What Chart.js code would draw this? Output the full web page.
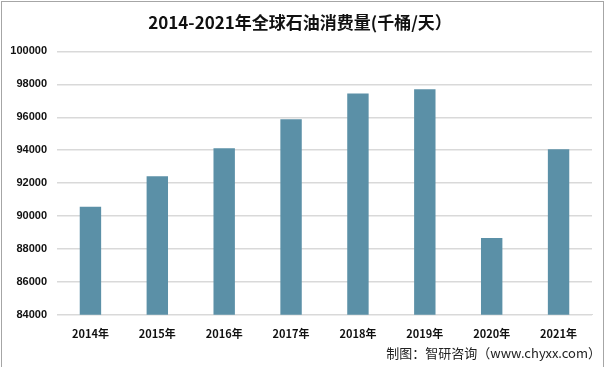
<!DOCTYPE html>
<html>
<head>
<meta charset="utf-8">
<script src="https://cdn.jsdelivr.net/npm/chart.js@4/dist/chart.umd.min.js"></script>
<style>
  body { margin: 0; background: #fff; }
  #wrap { position: relative; width: 609px; height: 367px; }
  #frame { position: absolute; left: 1px; top: 1px; width: 603px; height: 380px;
    border: 1px solid #a6a6a6; border-bottom: none; box-sizing: border-box; }
  canvas { position: absolute; left: 0; top: 0; }
  #source { position: absolute; right: 8px; top: 343px; font: 13px "Noto Sans CJK SC", sans-serif; color: #222; }
</style>
</head>
<body>
<div id="wrap">
  <div id="frame"></div>
  <canvas id="chart" width="609" height="367"></canvas>
  <div id="source">制图：智研咨询（www.chyxx.com）</div>
</div>
<script>
// 年份
const years = ['2014年', '2015年', '2016年', '2017年', '2018年', '2019年', '2020年', '2021年'];
// 全球石油消费量（千桶/天）
const consumption = [90560, 92420, 94120, 95880, 97450, 97700, 88670, 94060];
const yMin = 84000;
const yMax = 100000;
const yStep = 2000;

const ctx = document.getElementById('chart');
new Chart(ctx, {
  type: 'bar',
  data: {
    labels: years,
    datasets: [{
      label: '消费量',
      data: consumption,
      backgroundColor: '#5b90a7',
      categoryPercentage: 1,
      barPercentage: 0.32
    }]
  },
  options: {
    responsive: false,
    animation: false,
    layout: { padding: { left: 8, right: 17, top: 0, bottom: 23 } },
    plugins: {
      legend: { display: false },
      tooltip: { enabled: false },
      title: {
        display: true,
        text: '2014-2021年全球石油消费量(千桶/天）',
        color: '#111',
        font: { family: '"Noto Sans CJK SC", sans-serif', size: 17, weight: 'bold' },
        padding: { top: 12, bottom: 19 }
      }
    },
    scales: {
      x: {
        grid: { display: false },
        border: { color: '#d9d9d9' },
        ticks: {
          color: '#111',
          padding: 4,
          font: { family: '"Noto Sans CJK SC", sans-serif', size: 11, weight: 'bold' }
        }
      },
      y: {
        min: yMin,
        max: yMax,
        afterFit: s => { s.width = 49; },
        grid: { color: '#d9d9d9', lineWidth: 1.5, drawTicks: false },
        border: { display: false },
        ticks: {
          stepSize: yStep,
          padding: 10,
          color: '#111',
          callback: v => String(v),
          font: { family: '"Liberation Sans", sans-serif', size: 11, weight: 'bold' }
        }
      }
    }
  }
});
</script>
</body>
</html>
